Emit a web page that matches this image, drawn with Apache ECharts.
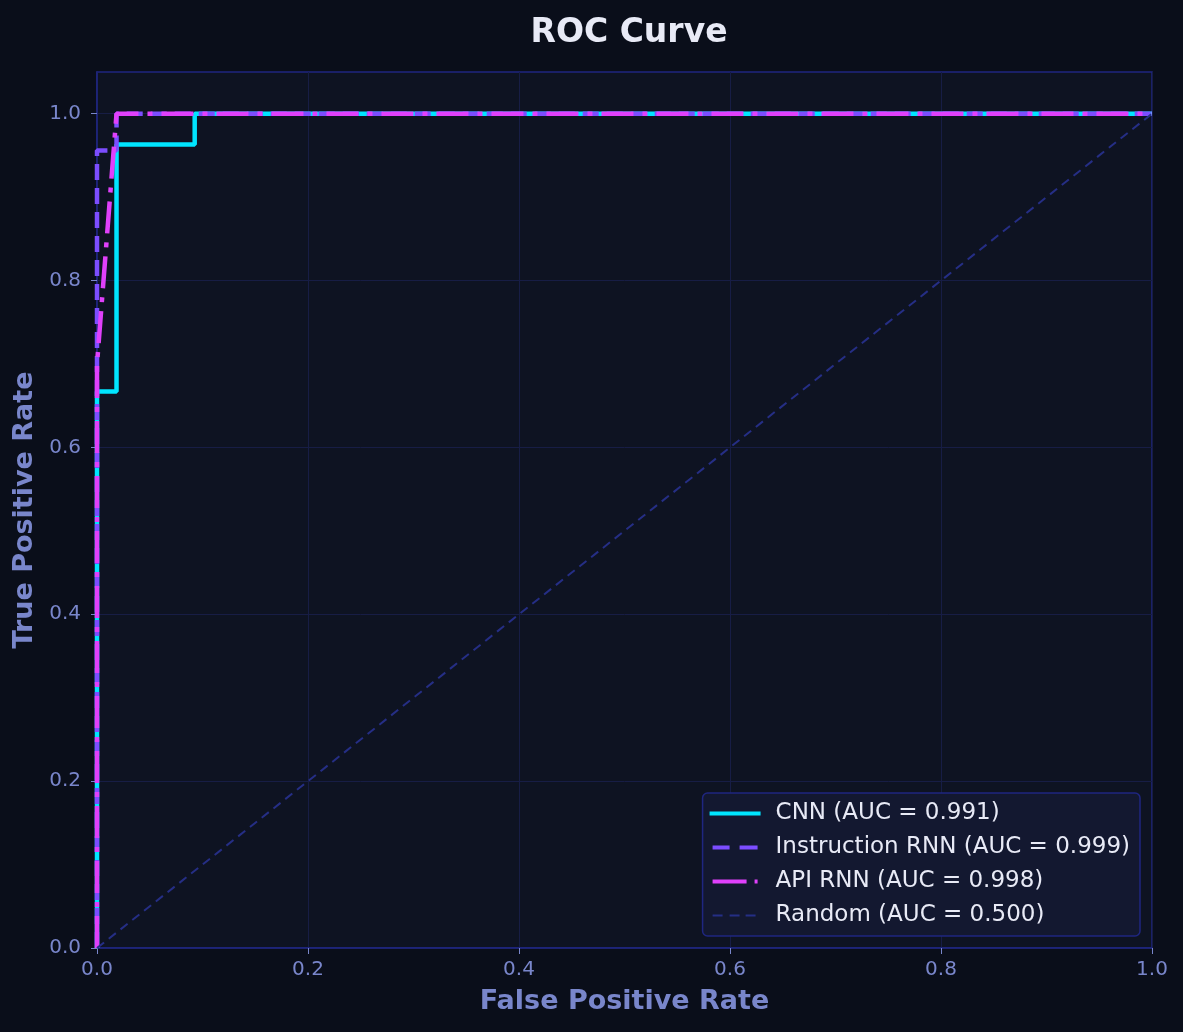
<!DOCTYPE html>
<html>
<head>
<meta charset="utf-8">
<script src="https://cdn.jsdelivr.net/npm/echarts@6/dist/echarts.min.js"></script>
<style>
  html, body { margin: 0; padding: 0; background: #0a0e1a; }
  #roc { width: 1183px; height: 1032px; }
</style>
</head>
<body>
<div id="roc"></div>
<script>
// ROC points
const cnnFpr = [0, 0, 0.0185, 0.0185, 0.0926, 0.0926, 1]
const cnnTpr = [0, 0.667, 0.667, 0.963, 0.963, 1, 1]
const instrFpr = [0, 0, 0.0185, 0.0185, 1]
const instrTpr = [0, 0.956, 0.956, 1, 1]
const apiFpr = [0, 0, 0.0185, 1]
const apiTpr = [0, 0.70, 1, 1]
const randFpr = [0, 1]
const randTpr = [0, 1]
const tickValues = [0, 0.2, 0.4, 0.6, 0.8, 1.0]

const names = [
  'CNN (AUC = 0.991)',
  'Instruction RNN (AUC = 0.999)',
  'API RNN (AUC = 0.998)',
  'Random (AUC = 0.500)'
]

// legend swatches drawn as paths (box 52 x 6, two flat lines only fix the bounds)
const box = 'M0,0L52,0ZM0,6L52,6Z'
const legendIcons = [
  'path://' + box + 'M0,1H51V5H0Z',
  'path://' + box + 'M3,1H20V5H3ZM30,1H48V5H30Z',
  'path://' + box + 'M3,1H37V5H3ZM45,1H48V5H45Z',
  'path://' + box + 'M3,2H13V4H3ZM20,2H30V4H20ZM36,2H46V4H36Z'
]

function zip (xs, ys) {
  return xs.map((x, i) => [x, ys[i]])
}

function lineSeries (name, data, color, width, dash) {
  return {
    name: name,
    type: 'line',
    data: data,
    symbol: 'none',
    animation: false,
    color: color,
    lineStyle: { color: color, width: width, type: dash },
    z: 2
  }
}

const labelColor = '#7986cb'
const frameColor = '#1f2680'

let myChart = echarts.init(document.getElementById('roc'))
myChart.setOption({
  backgroundColor: '#0a0e1a',
  textStyle: { fontFamily: 'DejaVu Sans' },
  title: {
    text: 'ROC Curve',
    left: 624,
    textAlign: 'center',
    top: 12,
    textStyle: { color: '#e8eaf6', fontSize: 33, fontWeight: 'bold' }
  },
  grid: {
    left: 97,
    right: 31,
    top: 72,
    bottom: 84,
    show: true,
    backgroundColor: '#0e1322',
    borderColor: frameColor,
    borderWidth: 1.5
  },
  legend: {
    orient: 'vertical',
    right: 43,
    bottom: 96,
    itemWidth: 52,
    itemHeight: 6,
    itemGap: 11,
    padding: [9, 10, 9, 7],
    backgroundColor: '#131830',
    borderColor: '#1f2680',
    borderWidth: 1.5,
    borderRadius: 5,
    itemStyle: { borderWidth: 0 },
    textStyle: { color: '#e8eaf6', fontSize: 23, padding: [0, 0, 0, 9] },
    data: names.map((n, i) => ({ name: n, icon: legendIcons[i] }))
  },
  xAxis: {
    type: 'value',
    min: 0,
    max: 1,
    interval: 0.2,
    name: 'False Positive Rate',
    nameLocation: 'middle',
    nameGap: 40,
    nameTextStyle: { color: labelColor, fontSize: 27, fontWeight: 'bold' },
    axisLine: { show: true, onZero: false, lineStyle: { color: frameColor, width: 1.5 } },
    axisTick: { show: true, length: 6, lineStyle: { color: labelColor } },
    axisLabel: {
      color: labelColor,
      fontSize: 20,
      margin: 12,
      formatter: v => v.toFixed(1)
    },
    splitLine: { show: true, lineStyle: { color: '#171d45', width: 1 } }
  },
  yAxis: {
    type: 'value',
    min: 0,
    max: 1.05,
    interval: 0.2,
    name: 'True Positive Rate',
    nameLocation: 'middle',
    nameGap: 58,
    nameTextStyle: { color: labelColor, fontSize: 27, fontWeight: 'bold' },
    axisLine: { show: true, onZero: false, lineStyle: { color: frameColor, width: 1.5 } },
    axisTick: { show: true, length: 6, customValues: tickValues, lineStyle: { color: labelColor } },
    axisLabel: {
      color: labelColor,
      fontSize: 20,
      margin: 16,
      customValues: tickValues,
      formatter: v => v.toFixed(1)
    },
    splitLine: { show: true, lineStyle: { color: '#171d45', width: 1 } }
  },
  series: [
    lineSeries(names[0], zip(cnnFpr, cnnTpr), '#00e5ff', 4.5, 'solid'),
    lineSeries(names[1], zip(instrFpr, instrTpr), '#7c4dff', 4.5, [16, 8]),
    lineSeries(names[2], zip(apiFpr, apiTpr), '#e040fb', 4.5, [32, 9, 5, 9]),
    lineSeries(names[3], zip(randFpr, randTpr), '#252e85', 2, [9, 6])
  ]
})
</script>
</body>
</html>
